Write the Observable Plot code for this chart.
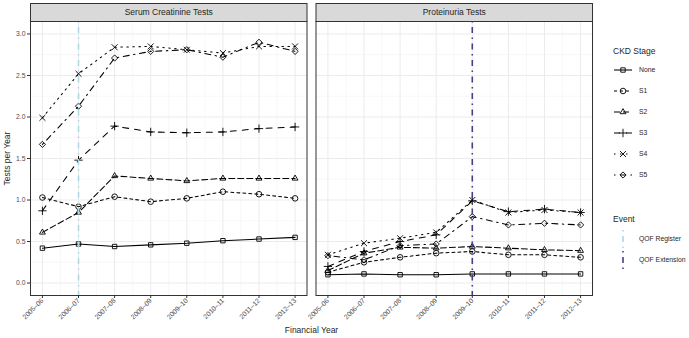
<!DOCTYPE html>
<html>
<head>
<meta charset="utf-8">
<script src="https://cdn.jsdelivr.net/npm/d3@7"></script>
<script src="https://cdn.jsdelivr.net/npm/@observablehq/plot@0.6"></script>
<style>
  html, body { margin: 0; padding: 0; background: #fff; }
  #chart { position: relative; width: 689px; height: 338px; }
</style>
</head>
<body>
<div id="chart"></div>
<script>
// ---- data ----
const years = ["2005–06","2006–07","2007–08","2008–09","2009–10","2010–11","2011–12","2012–13"];
const stages = ["None","S1","S2","S3","S4","S5"];
const tests = ["Serum Creatinine Tests","Proteinuria Tests"];

const serumNone = [0.42,0.47,0.44,0.46,0.48,0.51,0.53,0.55];
const serumS1   = [1.03,0.92,1.04,0.98,1.02,1.10,1.07,1.02];
const serumS2   = [0.61,0.85,1.29,1.26,1.23,1.26,1.26,1.26];
const serumS3   = [0.87,1.48,1.89,1.82,1.81,1.82,1.86,1.88];
const serumS4   = [1.99,2.52,2.84,2.85,2.81,2.77,2.85,2.85];
const serumS5   = [1.67,2.13,2.71,2.79,2.81,2.72,2.90,2.79];

const protNone = [0.10,0.11,0.10,0.10,0.11,0.11,0.11,0.11];
const protS1   = [0.13,0.25,0.31,0.36,0.38,0.34,0.34,0.31];
const protS2   = [0.15,0.36,0.43,0.42,0.44,0.42,0.40,0.39];
const protS3   = [0.20,0.38,0.50,0.58,0.99,0.86,0.89,0.85];
const protS4   = [0.34,0.48,0.54,0.61,1.00,0.85,0.88,0.85];
const protS5   = [0.33,0.28,0.45,0.47,0.80,0.70,0.72,0.70];

const eventNames = ["QOF Register","QOF Extension"];
const eventYears = ["2006–07","2009–10"];
const eventTests = ["Serum Creatinine Tests","Proteinuria Tests"];

const yTicks = [0, 0.5, 1, 1.5, 2, 2.5, 3];

// ---- styles ----
const stageDash = ["none","3,3","6,3","6,6","1.5,4.5","1.5,4.5,6,4.5"];
const stageSymbols = ["square2","circle","triangle2","plus","times","diamond2"];
const eventColors = ["#ADD8E6","#483D8B"];
const eventDash = "1.5,4.5,6,4.5";
const FONT = "'Liberation Sans', Arial, Helvetica, sans-serif";
const R = 2.8;
const TXT = "#262626";

// ---- tidy rows ----
const seriesByTest = {
  "Serum Creatinine Tests": [serumNone, serumS1, serumS2, serumS3, serumS4, serumS5],
  "Proteinuria Tests": [protNone, protS1, protS2, protS3, protS4, protS5]
};
const rows = [];
for (const t of tests) {
  seriesByTest[t].forEach((arr, si) => {
    arr.forEach((v, i) => rows.push({test: t, stage: stages[si], xi: i, year: years[i], value: v}));
  });
}
const events = eventNames.map((e, i) => ({event: e, test: eventTests[i], xi: years.indexOf(eventYears[i])}));

const xMajor = years.map((d, i) => i);
const xMinor = years.slice(1).map((d, i) => i + 0.5);
const yMinor = yTicks.slice(1).map(v => v - 0.25);

const lineMarks = stages.map((s, si) =>
  Plot.line(rows.filter(r => r.stage === s), {
    fx: "test", x: "xi", y: "value", z: "test",
    stroke: "black", strokeWidth: 1.05, strokeDasharray: stageDash[si]
  })
);

const plot = Plot.plot({
  width: 689, height: 338,
  marginLeft: 30, marginRight: 97, marginTop: 21, marginBottom: 43,
  style: {fontFamily: FONT, background: "white", overflow: "visible"},
  fx: {domain: tests, paddingInner: 0.0315, paddingOuter: 0, round: false, axis: null, label: null},
  x: {domain: [-0.33, 7.33], label: null},
  y: {domain: [-0.15, 3.15], label: null},
  color: {domain: eventNames, range: eventColors},
  symbol: {domain: stages, range: stageSymbols},
  marks: [
    Plot.gridY(yMinor, {stroke: "#F4F4F4", strokeOpacity: 1, strokeWidth: 0.6}),
    Plot.gridX(xMinor, {stroke: "#F4F4F4", strokeOpacity: 1, strokeWidth: 0.6}),
    Plot.gridY(yTicks, {stroke: "#EBEBEB", strokeOpacity: 1, strokeWidth: 1}),
    Plot.gridX(xMajor, {stroke: "#EBEBEB", strokeOpacity: 1, strokeWidth: 1}),
    ...lineMarks,
    Plot.dot(rows, {fx: "test", x: "xi", y: "value", symbol: "stage", stroke: "black", fill: "none", r: R, strokeWidth: 0.9}),
    Plot.ruleX(events, {fx: "test", x: "xi", stroke: "event", strokeWidth: 1.6, strokeDasharray: eventDash}),
    Plot.frame({stroke: "#333333", strokeWidth: 1}),
    Plot.axisY(yTicks, {tickFormat: d3.format(".1f"), tickSize: 3, tickPadding: 2, fontSize: 6.8, color: "#4D4D4D", stroke: "#333333", label: null}),
    Plot.axisX(xMajor, {tickFormat: i => years[i], tickSize: 3, tickPadding: 1, tickRotate: -45, fontSize: 6.8, color: "#4D4D4D", stroke: "#333333", label: null})
  ]
});

const container = document.getElementById("chart");
container.appendChild(plot);

// ---- strips, titles, legend ----
const svg = d3.select(plot);
const svgBox = plot.getBoundingClientRect();
const frames = Array.from(plot.querySelectorAll("rect")).filter(r => r.closest('[aria-label="frame"]'));
const boxes = frames.map(r => {
  const b = r.getBoundingClientRect();
  return {x: b.left - svgBox.left, y: b.top - svgBox.top, w: b.width, h: b.height};
}).sort((a, b) => a.x - b.x);

const over = svg.append("g").attr("font-weight", 400);
boxes.forEach((b, i) => {
  over.append("rect").attr("x", b.x).attr("y", b.y - 18).attr("width", b.w).attr("height", 18)
    .attr("fill", "#D9D9D9").attr("stroke", "#333333").attr("stroke-width", 1);
  over.append("text").attr("x", b.x + b.w / 2).attr("y", b.y - 9).attr("dy", "0.35em")
    .attr("text-anchor", "middle").attr("font-family", FONT).attr("font-size", 8.5)
    .attr("fill", TXT).text(tests[i]);
});

const left = boxes.length ? boxes[0] : {x: 30, y: 21, w: 276, h: 274};
const right = boxes.length ? boxes[boxes.length - 1] : {x: 316, y: 21, w: 276, h: 274};
over.append("text")
  .attr("transform", `translate(7,${left.y + left.h / 2}) rotate(-90)`)
  .attr("text-anchor", "middle").attr("dy", "0.35em")
  .attr("font-family", FONT).attr("font-size", 8.5).attr("fill", TXT).text("Tests per Year");
over.append("text")
  .attr("x", (left.x + right.x + right.w) / 2).attr("y", 333)
  .attr("text-anchor", "middle")
  .attr("font-family", FONT).attr("font-size", 8.5).attr("fill", TXT).text("Financial Year");

// legend
const lg = svg.append("g").attr("font-family", FONT).attr("text-anchor", "start").attr("font-weight", 400);
const lx = 613;
lg.append("text").attr("x", lx).attr("y", 51).attr("dy", "0.35em").attr("font-size", 8.5).attr("fill", TXT).text("CKD Stage");
const symMap = {square2: d3.symbolSquare2, circle: d3.symbolCircle, triangle2: d3.symbolTriangle2,
                plus: d3.symbolPlus, times: d3.symbolTimes, diamond2: d3.symbolDiamond2};
stages.forEach((s, i) => {
  const y = 70 + 21 * i;
  lg.append("line").attr("x1", lx + 1).attr("x2", lx + 19).attr("y1", y).attr("y2", y)
    .attr("stroke", "black").attr("stroke-width", 1.05).attr("stroke-dasharray", stageDash[i]);
  lg.append("path").attr("transform", `translate(${lx + 10},${y})`)
    .attr("d", d3.symbol(symMap[stageSymbols[i]], R * R * Math.PI)())
    .attr("fill", "none").attr("stroke", "black").attr("stroke-width", 0.9);
  lg.append("text").attr("x", lx + 26).attr("y", y).attr("dy", "0.35em").attr("font-size", 6.8).attr("fill", TXT).text(s);
});
lg.append("text").attr("x", lx).attr("y", 219).attr("dy", "0.35em").attr("font-size", 8.5).attr("fill", TXT).text("Event");
eventNames.forEach((e, i) => {
  const y = 239 + 21 * i;
  lg.append("line").attr("x1", lx + 10).attr("x2", lx + 10).attr("y1", y - 9).attr("y2", y + 9)
    .attr("stroke", eventColors[i]).attr("stroke-width", 1.6).attr("stroke-dasharray", eventDash);
  lg.append("text").attr("x", lx + 26).attr("y", y).attr("dy", "0.35em").attr("font-size", 6.8).attr("fill", TXT).text(e);
});
</script>
</body>
</html>
